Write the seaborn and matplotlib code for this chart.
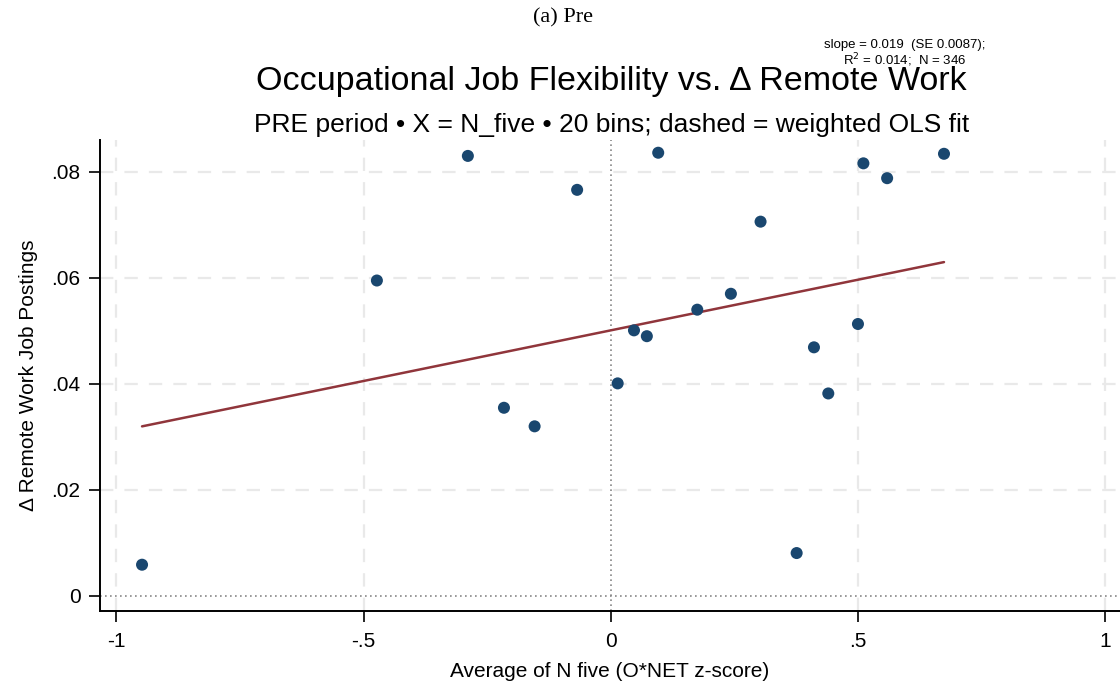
import matplotlib
matplotlib.use("Agg")
import matplotlib.pyplot as plt
import numpy as np
import pandas as pd
import seaborn as sns

# binned means (20 bins)
bin_x = [-0.948, -0.473, -0.289, -0.216, -0.154, -0.068, 0.014, 0.047, 0.073, 0.096,
         0.175, 0.243, 0.303, 0.376, 0.411, 0.440, 0.500, 0.511, 0.559, 0.674]
bin_y = [0.0059, 0.0595, 0.0830, 0.0355, 0.0320, 0.0766, 0.0401, 0.0501, 0.0490, 0.0836,
         0.0540, 0.0570, 0.0706, 0.0081, 0.0469, 0.0382, 0.0513, 0.0816, 0.0788, 0.0834]

# weighted OLS fit
fit_slope = 0.0191
fit_intercept = 0.0501

x_ticks = [-1, -0.5, 0, 0.5, 1]
x_ticklabels = ["-1", "-.5", "0", ".5", "1"]
y_ticks = [0, 0.02, 0.04, 0.06, 0.08]
y_ticklabels = ["0", ".02", ".04", ".06", ".08"]

df = pd.DataFrame({"x": bin_x, "y": bin_y})
fit = pd.DataFrame({"x": [min(bin_x), max(bin_x)]})
fit["y"] = fit_intercept + fit_slope * fit["x"]

sns.set_theme(style="white")
plt.rcParams["font.family"] = ["Liberation Sans", "DejaVu Sans"]
plt.rcParams["text.color"] = "black"
plt.rcParams["axes.labelcolor"] = "black"
plt.rcParams["xtick.color"] = "black"
plt.rcParams["ytick.color"] = "black"

fig = plt.figure(figsize=(11.2, 6.89), dpi=100)
ax = fig.add_axes([0.0893, 0.1132, 0.9107, 0.6836])

# grid
for xv in [-1, -0.5, 0.5, 1]:
    ax.axvline(xv, color="#e9e9e9", lw=1.6, ls=(0, (6, 5)), zorder=0)
for yv in [0.02, 0.04, 0.06, 0.08]:
    ax.axhline(yv, color="#e9e9e9", lw=1.6, ls=(0, (6, 5)), zorder=0)
ax.axvline(0, color="#888888", lw=1.2, ls=(0, (1, 2)), zorder=1)
ax.axhline(0, color="#888888", lw=1.2, ls=(0, (1, 2)), zorder=1)

sns.lineplot(data=fit, x="x", y="y", ax=ax, color="#90353b", lw=1.8, zorder=2)
sns.scatterplot(data=df, x="x", y="y", ax=ax, color="#1a476f", s=75,
                edgecolor="none", zorder=3)

ax.set_xlim(-1.033, 1.030)
ax.set_ylim(-0.00283, 0.086)
ax.set_xticks(x_ticks)
ax.set_xticklabels(x_ticklabels)
ax.set_yticks(y_ticks)
ax.set_yticklabels(y_ticklabels)
ax.tick_params(axis="both", which="both", direction="out", length=8, width=1.2,
               labelsize=15, bottom=True, left=True)
ax.tick_params(axis="x", pad=7)
ax.tick_params(axis="y", pad=6)

for side in ["top", "right"]:
    ax.spines[side].set_visible(False)
for side in ["left", "bottom"]:
    ax.spines[side].set_color("black")
    ax.spines[side].set_linewidth(1.4)

ax.set_xlabel("Average of N five (O*NET z-score)", fontsize=15, labelpad=8)
ax.set_ylabel("Δ Remote Work Job Postings", fontsize=15, labelpad=10)

fig.text(0.503, 0.974, "(a) Pre", ha="center", va="center", fontsize=16,
         family=["Liberation Serif", "DejaVu Serif"])
fig.text(0.808, 0.934, "slope = 0.019  (SE 0.0087);", ha="center", va="center", fontsize=9.5)
fig.text(0.808, 0.913, "R$^2$ = 0.014;  N = 346", ha="center", va="center", fontsize=9.5)
fig.text(0.546, 0.881, "Occupational Job Flexibility vs. Δ Remote Work", ha="center",
         va="center", fontsize=24.5)
fig.text(0.546, 0.818, "PRE period • X = N_five • 20 bins; dashed = weighted OLS fit",
         ha="center", va="center", fontsize=19)

fig.savefig("out.png", dpi=100)
